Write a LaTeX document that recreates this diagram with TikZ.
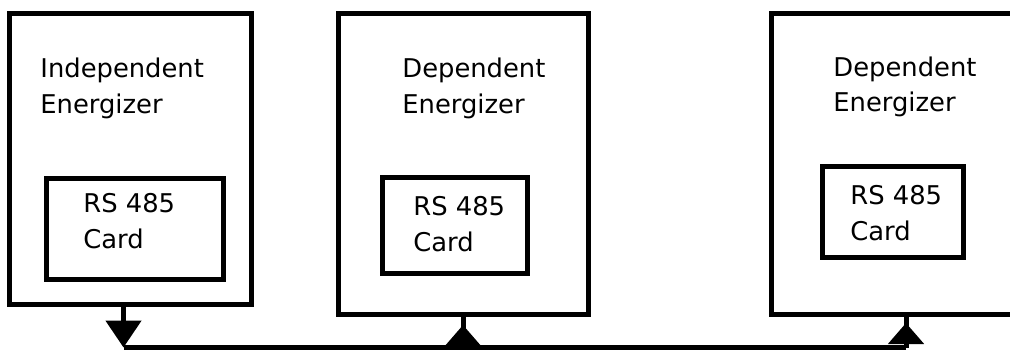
\documentclass[tikz,border=0pt]{standalone}
\usepackage{fontspec}
\setmainfont{DejaVu Sans}
\usetikzlibrary{arrows.meta}
\tikzset{
  panel/.style={rectangle,draw,line width=2.5pt,inner sep=0pt},
  label/.style={anchor=base west,align=left,inner sep=0pt,font=\fontsize{12.9}{17.5}\selectfont},
  wire/.style={line width=2.5pt},
  bushead/.style={-{Triangle[width=17.5pt,length=10.5pt]}}
}
\begin{document}
\begin{tikzpicture}[x=0.5pt,y=-0.5pt]
    \useasboundingbox (0,0) rectangle (1010,358);
    \clip (0,0) rectangle (1010,358);
    % energizers
    \node[panel,minimum width=120.75pt,minimum height=145.25pt] (ind) at (130.25,159.25) {};
    \node[panel,minimum width=124.75pt,minimum height=150pt] (depa) at (463.25,164) {};
    \node[panel,minimum width=129.25pt,minimum height=150pt] (depb) at (900.75,164) {};
    \node[label] (indtxt) at (40,113) {Independent\\Energizer};
    \node[label] (depatxt) at (402,113) {Dependent\\Energizer};
    \node[label] (depbtxt) at (833,112) {Dependent\\Energizer};
    % cards
    \node[panel,minimum width=88.75pt,minimum height=50.5pt] (carda) at (134.75,228.5) {};
    \node[panel,minimum width=72.5pt,minimum height=48pt] (cardb) at (455,225.5) {};
    \node[panel,minimum width=70.5pt,minimum height=45.5pt] (cardc) at (893,211.5) {};
    \node[label,font=\fontsize{12.9}{18}\selectfont] (cardatxt) at (83,248) {RS 485\\Card};
    \node[label,font=\fontsize{12.9}{18}\selectfont] (cardbtxt) at (413,251) {RS 485\\Card};
    \node[label,font=\fontsize{12.9}{18}\selectfont] (cardctxt) at (850,240) {RS 485\\Card};
    % bus
    \coordinate (busa) at (123.5,347.5);
    \coordinate (busb) at (463,347.5);
    \coordinate (busc) at (906,347.5);
    \coordinate (headb) at (463,325);
    \coordinate (headc) at (906,323);
    \draw[wire] (busa) -- (busc);
    \draw[wire,-{Triangle[width=17.5pt,length=13.5pt]}] (busa |- ind.south) -- (busa);
    \draw[wire] (busb) -- (busb |- depa.south);
    \draw[wire,bushead] (busb) -- (headb);
    \draw[wire] (busc) -- (busc |- depb.south);
    \draw[wire,bushead] (busc) -- (headc);
\end{tikzpicture}
\end{document}
